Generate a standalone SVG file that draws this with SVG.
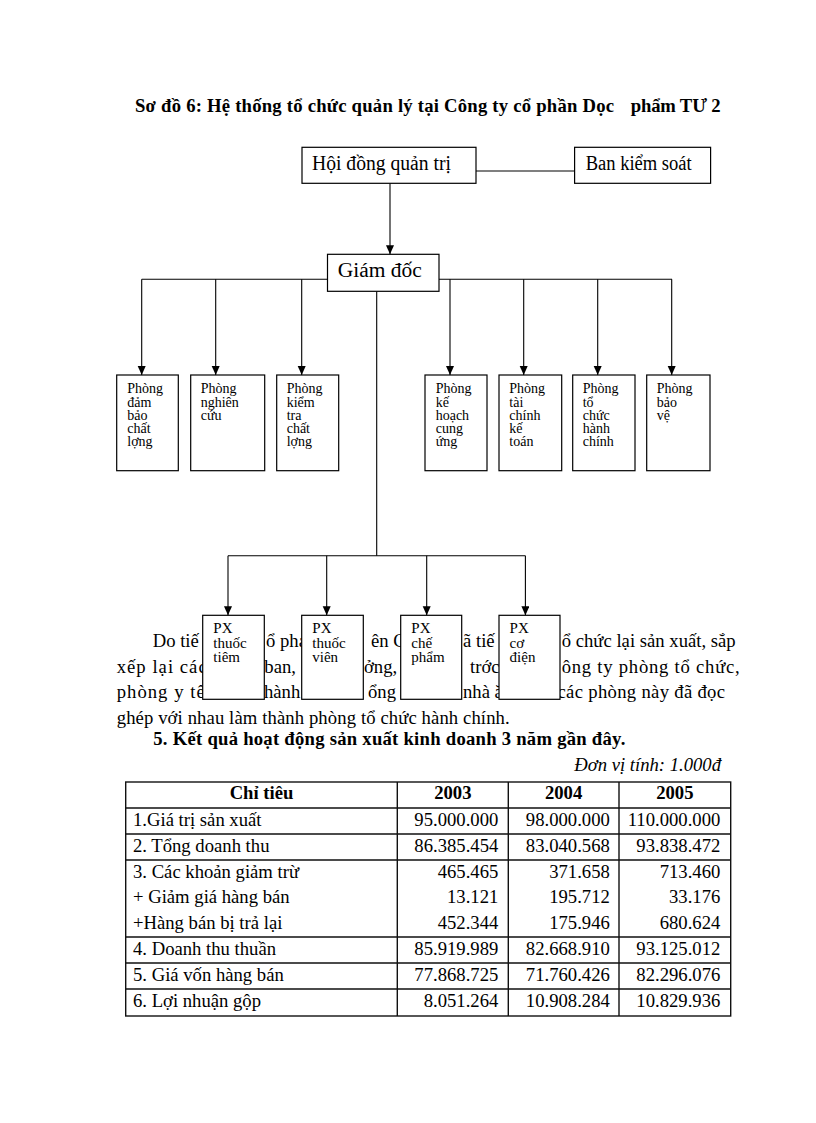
<svg xmlns="http://www.w3.org/2000/svg" width="816" height="1123" viewBox="0 0 816 1123">
<style>
.box{fill:#fff;stroke:#000;stroke-width:1.2}
.conn{fill:none;stroke:#000;stroke-width:1.1}
.t{font-family:'Liberation Serif','Times New Roman',serif;fill:#000}
.lbl{font-size:20px}
.dep{font-size:14px}
.px{font-size:15px}
.body{font-size:18.67px}
.b{font-weight:bold}
.tb{fill:none;stroke:#111;stroke-width:1.4}
.num{text-anchor:end}
.mid{text-anchor:middle}
</style>
<defs>
<marker id="arr" markerUnits="userSpaceOnUse" markerWidth="9" markerHeight="9" refX="9" refY="4" orient="auto">
<path d="M0,0 L9,4 L0,8 z" fill="#000"/>
</marker>
</defs>
<rect width="816" height="1123" fill="#fff"/>

<!-- Title -->
<text class="t body b" x="135" y="111.7" textLength="479" lengthAdjust="spacing">Sơ đồ 6: Hệ thống tổ chức quản lý tại Công ty cổ phần Dọc</text>
<text class="t body b" x="630.7" y="111.7" textLength="90" lengthAdjust="spacing">phẩm TƯ 2</text>

<!-- Paragraph (partly covered by the workshop boxes) -->
<g id="paragraph" class="t body">
<text y="647"><tspan x="152.7">Do tiế</tspan><tspan x="266">ổ pha</tspan><tspan x="371">ên C</tspan><tspan x="463">ã tiế</tspan><tspan x="561.7" textLength="174" lengthAdjust="spacing">ổ chức lại sản xuất, sắp</tspan></text>
<text y="672.5"><tspan x="116.7" textLength="90" lengthAdjust="spacing">xếp lại các</tspan><tspan x="264.3">ban,</tspan><tspan x="364">ởng,</tspan><tspan x="470">trớc</tspan><tspan x="561.7" textLength="178" lengthAdjust="spacing">ông ty phòng tổ chức,</tspan></text>
<text y="698"><tspan x="116.7" textLength="88" lengthAdjust="spacing">phòng y tế</tspan><tspan x="264">hành</tspan><tspan x="368">ổng</tspan><tspan x="463">nhà ă</tspan><tspan x="557.5" textLength="167.5" lengthAdjust="spacing">các phòng này đã đọc</tspan></text>
<text x="116.7" y="723.5" textLength="393" lengthAdjust="spacing">ghép với nhau làm thành phòng tổ chức hành chính.</text>
</g>

<!-- Connectors -->
<g id="connectors" class="conn">
<path d="M476,171 H574.6"/>
<path d="M390,183.3 V254.3" marker-end="url(#arr)"/>
<path d="M141.7,279.3 H672"/>
<path d="M141.7,279.3 V375" marker-end="url(#arr)"/>
<path d="M215.7,279.3 V375" marker-end="url(#arr)"/>
<path d="M301.7,279.3 V375" marker-end="url(#arr)"/>
<path d="M450,279.3 V375" marker-end="url(#arr)"/>
<path d="M523.7,279.3 V375" marker-end="url(#arr)"/>
<path d="M597.7,279.3 V375" marker-end="url(#arr)"/>
<path d="M671.7,279.3 V375" marker-end="url(#arr)"/>
<path d="M376.7,291.3 V555.7"/>
<path d="M228,555.7 H525.4"/>
<path d="M228,555.7 V615.3" marker-end="url(#arr)"/>
<path d="M326.7,555.7 V615.3" marker-end="url(#arr)"/>
<path d="M426.7,555.7 V615.3" marker-end="url(#arr)"/>
<path d="M525.4,555.7 V615.3" marker-end="url(#arr)"/>
</g>

<!-- Top nodes -->
<g id="hoi-dong-quan-tri">
<rect class="box" x="302" y="147.3" width="174" height="36"/>
<text class="t lbl" x="312" y="170" textLength="139" lengthAdjust="spacingAndGlyphs">Hội đồng quản trị</text>
</g>
<g id="ban-kiem-soat">
<rect class="box" x="574.6" y="147.3" width="136" height="36"/>
<text class="t lbl" x="585.7" y="170" textLength="106" lengthAdjust="spacingAndGlyphs">Ban kiểm soát</text>
</g>
<g id="giam-doc">
<rect class="box" x="327.5" y="254.3" width="111.5" height="37"/>
<text class="t lbl" x="337.7" y="276.7" textLength="84" lengthAdjust="spacingAndGlyphs">Giám đốc</text>
</g>

<!-- Department nodes -->
<g id="phong-dam-bao-chat-luong">
<rect class="box" x="116.7" y="375" width="61.6" height="95.7"/>
<text class="t dep"><tspan x="127.3" y="393.3">Phòng</tspan><tspan x="127.3" y="406.5">đảm</tspan><tspan x="127.3" y="419.7">bảo</tspan><tspan x="127.3" y="432.9">chất</tspan><tspan x="127.3" y="446.1">lợng</tspan></text>
</g>
<g id="phong-nghien-cuu">
<rect class="box" x="190.7" y="375" width="74" height="95.7"/>
<text class="t dep"><tspan x="200.7" y="393.3">Phòng</tspan><tspan x="200.7" y="406.5">nghiên</tspan><tspan x="200.7" y="419.7">cứu</tspan></text>
</g>
<g id="phong-kiem-tra-chat-luong">
<rect class="box" x="276.7" y="375" width="62" height="95.7"/>
<text class="t dep"><tspan x="286.7" y="393.3">Phòng</tspan><tspan x="286.7" y="406.5">kiểm</tspan><tspan x="286.7" y="419.7">tra</tspan><tspan x="286.7" y="432.9">chất</tspan><tspan x="286.7" y="446.1">lợng</tspan></text>
</g>
<g id="phong-ke-hoach-cung-ung">
<rect class="box" x="425" y="375" width="62" height="95.7"/>
<text class="t dep"><tspan x="435.7" y="393.3">Phòng</tspan><tspan x="435.7" y="406.5">kế</tspan><tspan x="435.7" y="419.7">hoạch</tspan><tspan x="435.7" y="432.9">cung</tspan><tspan x="435.7" y="446.1">ứng</tspan></text>
</g>
<g id="phong-tai-chinh-ke-toan">
<rect class="box" x="499" y="375" width="62.7" height="95.7"/>
<text class="t dep"><tspan x="509.3" y="393.3">Phòng</tspan><tspan x="509.3" y="406.5">tài</tspan><tspan x="509.3" y="419.7">chính</tspan><tspan x="509.3" y="432.9">kế</tspan><tspan x="509.3" y="446.1">toán</tspan></text>
</g>
<g id="phong-to-chuc-hanh-chinh">
<rect class="box" x="572.7" y="375" width="62.3" height="95.7"/>
<text class="t dep"><tspan x="582.7" y="393.3">Phòng</tspan><tspan x="582.7" y="406.5">tổ</tspan><tspan x="582.7" y="419.7">chức</tspan><tspan x="582.7" y="432.9">hành</tspan><tspan x="582.7" y="446.1">chính</tspan></text>
</g>
<g id="phong-bao-ve">
<rect class="box" x="646.7" y="375" width="63.3" height="95.7"/>
<text class="t dep"><tspan x="656.7" y="393.3">Phòng</tspan><tspan x="656.7" y="406.5">bảo</tspan><tspan x="656.7" y="419.7">vệ</tspan></text>
</g>

<!-- Workshop nodes -->
<g id="px-thuoc-tiem">
<rect class="box" x="202.7" y="615.3" width="61.6" height="84"/>
<text class="t px"><tspan x="213.3" y="633">PX</tspan><tspan x="213.3" y="647.5">thuốc</tspan><tspan x="213.3" y="661.5">tiêm</tspan></text>
</g>
<g id="px-thuoc-vien">
<rect class="box" x="301.7" y="615.3" width="61.6" height="84"/>
<text class="t px"><tspan x="312.3" y="633">PX</tspan><tspan x="312.3" y="647.5">thuốc</tspan><tspan x="312.3" y="661.5">viên</tspan></text>
</g>
<g id="px-che-pham">
<rect class="box" x="400.7" y="615.3" width="61" height="84"/>
<text class="t px"><tspan x="411.3" y="633">PX</tspan><tspan x="411.3" y="647.5">chế</tspan><tspan x="411.3" y="661.5">phẩm</tspan></text>
</g>
<g id="px-co-dien">
<rect class="box" x="499" y="615.3" width="61" height="84"/>
<text class="t px"><tspan x="509.6" y="633">PX</tspan><tspan x="509.6" y="647.5">cơ</tspan><tspan x="509.6" y="661.5">điện</tspan></text>
</g>

<!-- Section heading -->
<text class="t body b" x="153.3" y="744.7" textLength="472" lengthAdjust="spacing">5. Kết quả hoạt động sản xuất kinh doanh 3 năm gần đây.</text>
<text class="t body num" x="721" y="770.7" font-style="italic">Đơn vị tính: 1.000đ</text>

<!-- Table -->
<g id="table">
<rect class="tb" x="125.7" y="782" width="605" height="234"/>
<path class="tb" d="M397.3,782 V1016 M508.3,782 V1016 M619,782 V1016 M125.7,808 H730.7 M125.7,834 H730.7 M125.7,860 H730.7 M125.7,937 H730.7 M125.7,963 H730.7 M125.7,989 H730.7"/>
<g class="t body">
<text class="b mid" x="261.5" y="799">Chỉ tiêu</text>
<text class="b mid" x="452.8" y="799">2003</text>
<text class="b mid" x="563.6" y="799">2004</text>
<text class="b mid" x="674.8" y="799">2005</text>

<text x="133" y="826">1.Giá trị sản xuất</text>
<text class="num" x="498.3" y="826">95.000.000</text>
<text class="num" x="609.8" y="826">98.000.000</text>
<text class="num" x="720.3" y="826">110.000.000</text>

<text x="133" y="851.8">2. Tổng doanh thu</text>
<text class="num" x="498.3" y="851.8">86.385.454</text>
<text class="num" x="609.8" y="851.8">83.040.568</text>
<text class="num" x="720.3" y="851.8">93.838.472</text>

<text x="133" y="877.5">3. Các khoản giảm trừ</text>
<text class="num" x="498.3" y="877.5">465.465</text>
<text class="num" x="609.8" y="877.5">371.658</text>
<text class="num" x="720.3" y="877.5">713.460</text>

<text x="133" y="903">+ Giảm giá hàng bán</text>
<text class="num" x="498.3" y="903">13.121</text>
<text class="num" x="609.8" y="903">195.712</text>
<text class="num" x="720.3" y="903">33.176</text>

<text x="133" y="928.5">+Hàng bán bị trả lại</text>
<text class="num" x="498.3" y="928.5">452.344</text>
<text class="num" x="609.8" y="928.5">175.946</text>
<text class="num" x="720.3" y="928.5">680.624</text>

<text x="133" y="955">4. Doanh thu thuần</text>
<text class="num" x="498.3" y="955">85.919.989</text>
<text class="num" x="609.8" y="955">82.668.910</text>
<text class="num" x="720.3" y="955">93.125.012</text>

<text x="133" y="981">5. Giá vốn hàng bán</text>
<text class="num" x="498.3" y="981">77.868.725</text>
<text class="num" x="609.8" y="981">71.760.426</text>
<text class="num" x="720.3" y="981">82.296.076</text>

<text x="133" y="1006.7">6. Lợi nhuận gộp</text>
<text class="num" x="498.3" y="1006.7">8.051.264</text>
<text class="num" x="609.8" y="1006.7">10.908.284</text>
<text class="num" x="720.3" y="1006.7">10.829.936</text>
</g>
</g>
</svg>
